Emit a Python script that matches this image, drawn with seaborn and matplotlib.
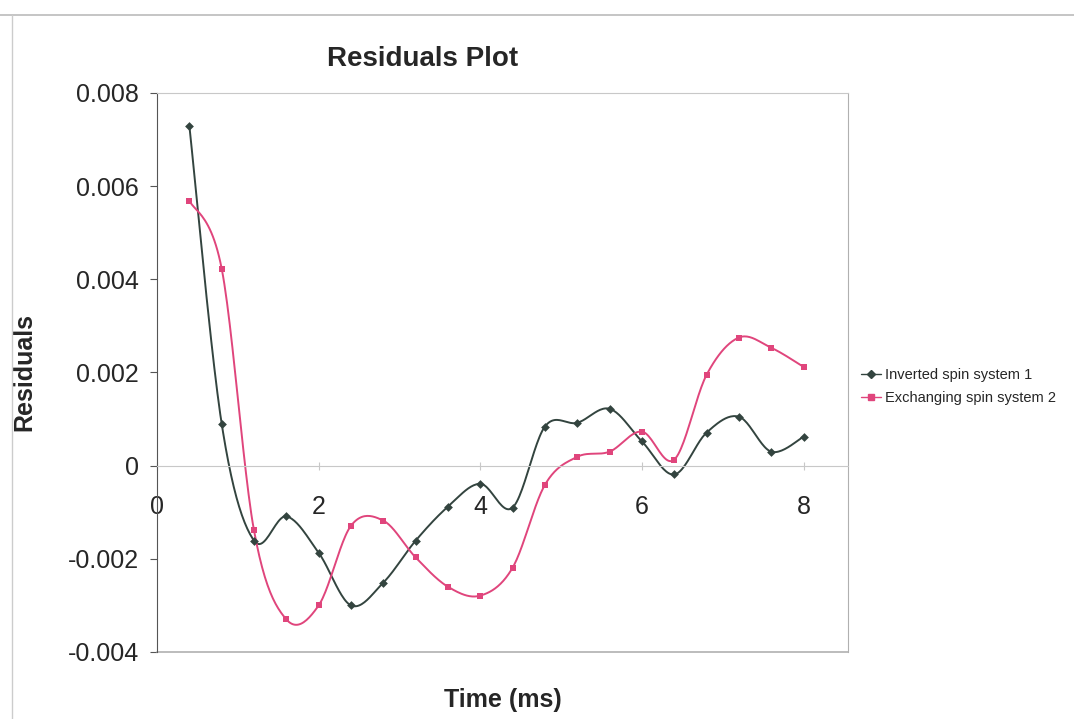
import matplotlib.pyplot as plt
import seaborn as sns
import numpy as np
import pandas as pd
from matplotlib.lines import Line2D

# datos
tiempo = [0.4, 0.8, 1.2, 1.6, 2.0, 2.4, 2.8, 3.2, 3.6, 4.0,
          4.4, 4.8, 5.2, 5.6, 6.0, 6.4, 6.8, 7.2, 7.6, 8.0]
serie1 = [0.00730, 0.00090, -0.00161, -0.00109, -0.00187, -0.00300, -0.00251, -0.00161, -0.00088, -0.00039,
          -0.00090, 0.00084, 0.00092, 0.00122, 0.00052, -0.00019, 0.00071, 0.00105, 0.00030, 0.00062]
serie2 = [0.00569, 0.00423, -0.00139, -0.00330, -0.00300, -0.00129, -0.00118, -0.00197, -0.00260, -0.00279,
          -0.00219, -0.00041, 0.00019, 0.00030, 0.00073, 0.00013, 0.00195, 0.00275, 0.00253, 0.00212]
nombres = ["Inverted spin system 1", "Exchanging spin system 2"]
colores = ["#33443f", "#e0457c"]
marcadores = ["D", "s"]


def suavizar(x, y, n=25):
    # curva tipo Excel (Bezier cúbica entre puntos)
    x = np.asarray(x, float)
    y = np.asarray(y, float)
    P = np.column_stack([x, y])
    Pext = np.vstack([P[0], P, P[-1]])
    out = []
    t = np.linspace(0, 1, n)[:, None]
    for i in range(len(P) - 1):
        p0, p1 = Pext[i + 1], Pext[i + 2]
        c1 = p0 + (Pext[i + 2] - Pext[i]) / 6
        c2 = p1 - (Pext[i + 3] - Pext[i + 1]) / 6
        seg = (1 - t) ** 3 * p0 + 3 * (1 - t) ** 2 * t * c1 + 3 * (1 - t) * t ** 2 * c2 + t ** 3 * p1
        out.append(seg if i == 0 else seg[1:])
    out = np.vstack(out)
    return out[:, 0], out[:, 1]


sns.set_style("white")
plt.rcParams['font.family'] = ['Liberation Sans', 'DejaVu Sans']

fig = plt.figure(figsize=(10.74, 7.19), dpi=100)
ax = fig.add_axes([0.1462, 0.0932, 0.6434, 0.7775])

for ys, nom, col, mk in zip([serie1, serie2], nombres, colores, marcadores):
    xs, yy = suavizar(tiempo, ys)
    df = pd.DataFrame({"x": xs, "y": yy})
    sns.lineplot(data=df, x="x", y="y", sort=False, estimator=None, color=col, lw=1.4, ax=ax)
    sns.scatterplot(x=tiempo, y=ys, marker=mk, s=20, color=col, edgecolor=col, linewidth=0, ax=ax, zorder=3)

ax.set_xlim(0, 8.55)
ax.set_ylim(-0.004, 0.008)
ax.set_xticks([0, 2, 4, 6, 8])
ax.set_yticks([-0.004, -0.002, 0, 0.002, 0.004, 0.006, 0.008])
ax.set_yticklabels(["-0.004", "-0.002", "0", "0.002", "0.004", "0.006", "0.008"])

ax.spines['bottom'].set_position(('data', 0))
ax.spines['bottom'].set_color("#c8c8c8")
ax.spines['left'].set_color("#555555")
ax.spines['top'].set_color("#c8c8c8")
ax.spines['right'].set_color("#b0b0b0")
ax.axhline(-0.004, color="#b0b0b0", lw=1.2, clip_on=False)

ax.tick_params(axis='y', direction='out', length=5, width=0.8, color="#555555", labelsize=18, pad=8)
ax.tick_params(axis='x', direction='inout', length=6, width=0.8, color="#c8c8c8", labelsize=18, pad=18)
ax.tick_params(left=True, bottom=True)

ax.set_xlabel("Time (ms)", fontsize=18, fontweight='bold', labelpad=0)
ax.xaxis.set_label_coords(0.5, -0.065)
ax.set_ylabel("Residuals", fontsize=18, fontweight='bold')
ax.yaxis.set_label_coords(-0.175, 0.5)
fig.text(0.393, 0.918, "Residuals Plot", fontsize=20, fontweight='bold', ha='center', va='center')

manijas = [Line2D([0], [0], color=c, marker=m, markersize=4, lw=1.0) for c, m in zip(colores, marcadores)]
fig.legend(manijas, nombres, loc='center left', bbox_to_anchor=(0.789, 0.462), frameon=False,
           fontsize=10.5, handlelength=1.4, handletextpad=0.3, labelspacing=0.6)

# marco exterior del gráfico
fig.add_artist(Line2D([0, 1], [0.979, 0.979], color="#bbbbbb", lw=1.2))
fig.add_artist(Line2D([0.011, 0.011], [0, 0.979], color="#cccccc", lw=1.0))

fig.savefig("out.png", dpi=100)
